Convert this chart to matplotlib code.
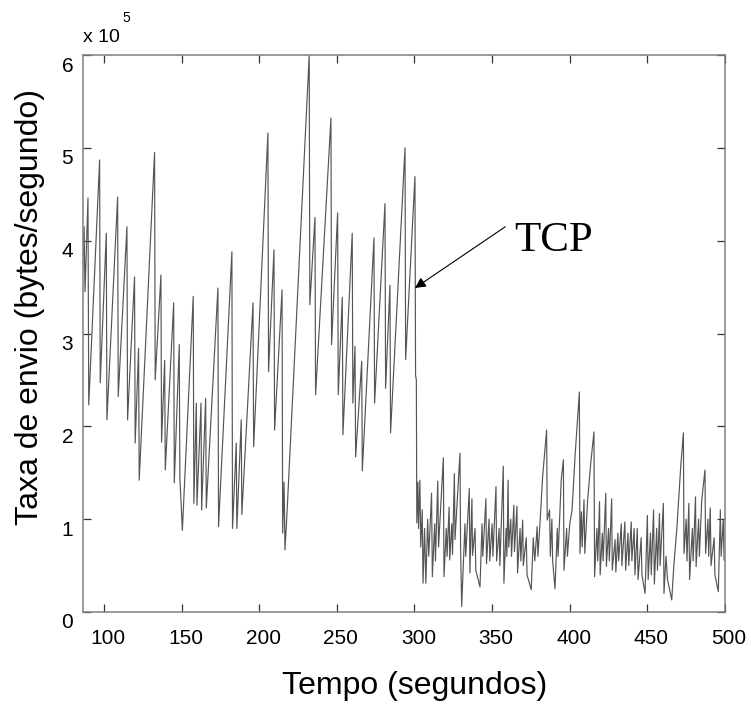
import numpy as np
import matplotlib
matplotlib.use("Agg")
import matplotlib.pyplot as plt
from matplotlib.transforms import ScaledTranslation

# tempo (s) e taxa (x 1e5 bytes/s): picos e vales
tempo_antes = [86.0, 87.2, 87.8, 89.7, 90.2, 97.2, 97.6, 101.5, 101.9, 108.8, 109.2,
               114.8, 115.2, 119.7, 120.1, 122.3, 122.7, 132.6, 133.0, 136.7, 137.1,
               139.1, 139.5, 144.9, 145.3, 148.5, 148.9, 150.5, 157.5, 157.9, 159.5,
               159.9, 162.5, 162.9, 165.5, 165.9, 173.4, 173.8, 182.4, 182.8, 185.2,
               185.6, 188.4, 188.8, 196.0, 196.4, 205.6, 206.0, 209.5, 209.9, 214.7,
               215.1, 216.0, 216.6, 218.0, 232.2, 232.6, 235.9, 236.3, 246.2, 246.6,
               250.5, 250.9, 253.5, 253.9, 259.9, 260.3, 261.7, 262.1, 266.0, 266.4,
               273.9, 274.3, 281.0, 281.4, 284.2, 284.6, 293.9, 294.3, 300.3, 300.7,
               301.2]
taxa_antes = [3.60, 4.15, 3.45, 4.46, 2.23, 4.87, 2.47, 4.08, 2.07, 4.47, 2.32,
              4.15, 2.07, 3.61, 1.82, 2.84, 1.42, 4.95, 2.50, 3.63, 1.83,
              2.71, 1.53, 3.33, 1.39, 2.88, 1.44, 0.88, 3.40, 1.17, 2.25,
              1.15, 2.25, 1.10, 2.30, 1.12, 3.49, 0.92, 3.88, 0.90, 1.82,
              0.90, 2.07, 1.05, 3.33, 1.78, 5.16, 2.59, 3.90, 1.96, 3.47,
              0.85, 1.40, 0.67, 1.10, 6.00, 3.31, 4.25, 2.34, 5.32, 2.88,
              4.30, 2.34, 3.39, 1.91, 4.08, 2.25, 2.86, 1.67, 2.70, 1.52,
              4.03, 2.25, 4.40, 2.41, 3.52, 1.93, 5.00, 2.72, 4.69, 2.55,
              2.50]

tempo_depois = [301.5, 302.2, 302.6, 303.5, 304.0, 305.0, 305.5, 306.5, 307.3, 308.5,
                309.2, 311.0, 311.5, 313.0, 313.5, 315.0, 315.5, 318.6, 319.0, 320.5,
                321.0, 322.3, 322.7, 324.0, 324.5, 325.7, 326.1, 329.3, 329.7, 330.4,
                331.5, 332.5, 333.0, 335.3, 335.7, 337.0, 337.4, 339.0, 339.5, 342.2,
                343.5, 344.0, 346.0, 346.4, 348.0, 348.5, 350.0, 350.5, 352.5, 352.9,
                354.5, 355.0, 357.2, 357.6, 359.0, 359.5, 360.3, 360.7, 362.0, 362.5,
                364.0, 364.4, 366.0, 366.4, 368.0, 368.5, 369.7, 370.1, 372.0, 372.5,
                375.2, 376.5, 377.5, 379.0, 379.5, 381.0, 382.5, 385.1, 385.5, 387.0,
                387.5, 388.5, 389.0, 390.5, 392.0, 392.5, 394.5, 395.9, 396.3, 398.0,
                398.5, 400.0, 401.5, 403.5, 406.2, 406.6, 407.5, 408.0, 409.2, 409.7,
                411.5, 413.5, 415.6, 416.0, 417.5, 418.0, 419.2, 419.6, 421.0, 421.5,
                423.2, 423.6, 425.0, 425.5, 427.0, 427.4, 429.2, 429.7, 431.0, 431.5,
                433.2, 433.6, 435.5, 436.0, 437.5, 438.0, 439.6, 440.0, 441.5, 442.0,
                443.5, 444.0, 446.0, 446.5, 448.5, 450.0, 450.5, 452.0, 452.5, 454.0,
                454.5, 456.0, 456.5, 457.8, 458.2, 460.3, 460.7, 462.0, 463.0, 465.7,
                467.0, 469.0, 471.5, 473.2, 473.6, 475.0, 475.5, 476.7, 477.2, 479.0,
                479.5, 481.0, 481.4, 483.0, 483.5, 485.0, 487.1, 487.5, 489.0, 489.5,
                490.5, 491.0, 493.0, 493.5, 495.7, 497.0, 497.5, 498.9, 499.4]
taxa_depois = [0.96, 1.40, 0.90, 1.42, 0.70, 1.10, 0.31, 0.90, 0.31, 1.00,
               0.60, 1.28, 0.38, 0.95, 0.55, 1.41, 0.70, 1.66, 0.38, 0.90,
               0.60, 1.13, 0.56, 0.95, 0.62, 1.49, 0.78, 1.71, 0.70, 0.06,
               0.54, 0.95, 0.60, 1.33, 0.42, 1.22, 0.61, 0.90, 0.45, 0.27,
               0.95, 0.60, 1.22, 0.52, 1.00, 0.55, 0.95, 0.60, 1.35, 0.55,
               0.90, 0.50, 1.57, 0.31, 0.90, 0.60, 1.42, 0.70, 1.00, 0.60,
               1.15, 0.65, 1.14, 0.42, 0.90, 0.55, 0.99, 0.50, 0.80, 0.40,
               0.24, 0.80, 0.55, 0.92, 0.60, 1.00, 1.45, 1.96, 0.99, 1.10,
               0.60, 1.00, 0.55, 0.25, 0.90, 0.60, 1.42, 1.64, 0.45, 0.90,
               0.60, 0.95, 1.10, 1.70, 2.37, 0.63, 1.08, 0.70, 1.21, 0.63,
               1.20, 1.60, 1.94, 0.38, 0.90, 0.55, 1.19, 0.40, 0.85, 0.55,
               1.28, 0.49, 0.90, 0.55, 1.22, 0.45, 0.78, 0.43, 0.85, 0.55,
               0.95, 0.50, 0.97, 0.45, 0.85, 0.50, 0.97, 0.55, 0.90, 0.40,
               0.90, 0.35, 0.80, 0.40, 0.20, 1.04, 0.35, 0.85, 0.40, 1.10,
               0.30, 0.90, 0.45, 1.06, 0.50, 1.17, 0.20, 0.60, 0.35, 0.13,
               0.49, 0.90, 1.57, 1.93, 0.63, 1.00, 0.55, 1.17, 0.35, 0.90,
               0.55, 1.24, 0.49, 1.00, 0.60, 1.20, 1.53, 0.63, 1.00, 0.60,
               1.12, 0.50, 0.80, 0.40, 0.22, 1.10, 0.60, 1.00, 0.56]

x_ticks = [100, 150, 200, 250, 300, 350, 400, 450, 500]
y_ticks = [0, 1, 2, 3, 4, 5, 6]

tempo = np.array(tempo_antes + tempo_depois)
taxa = np.array(taxa_antes + taxa_depois) * 1e5

plt.rcParams["font.family"] = ["Liberation Sans", "DejaVu Sans"]

fig = plt.figure(figsize=(7.51, 7.09), dpi=100)
W, H = 751, 709
ax = fig.add_axes([83 / W, 1 - 612 / H, (725 - 83) / W, (612 - 55) / H])

ax.plot(tempo, taxa, color="#555555", lw=0.85)

ax.set_xlim(86.5, 500)
ax.set_ylim(0, 6e5)
ax.set_xticks(x_ticks)
ax.set_xticklabels([str(v) for v in x_ticks])
ax.set_yticks([v * 1e5 for v in y_ticks])
ax.set_yticklabels([str(v) for v in y_ticks])

ax.tick_params(direction="in", top=True, right=True, length=6, width=0.9,
               labelsize=15, color="#333333")
ax.tick_params(axis="x", pad=12)
ax.tick_params(axis="y", pad=7)
for s in ax.spines.values():
    s.set_color("#808080")
    s.set_linewidth(1.1)

# rotulos deslocados como no original (estilo MATLAB)
dx = ScaledTranslation(4 / 100, 0, fig.dpi_scale_trans)
dy = ScaledTranslation(0, -9 / 100, fig.dpi_scale_trans)
for lbl in ax.get_xticklabels():
    lbl.set_transform(lbl.get_transform() + dx)
for lbl in ax.get_yticklabels():
    lbl.set_transform(lbl.get_transform() + dy)

fig.text(83 / W, 1 - 42 / H, "x 10", fontsize=14, ha="left", va="baseline")
fig.text(122 / W, 1 - 22 / H, "5", fontsize=10, ha="left", va="baseline")

fig.text(30 / W, 1 - 307 / H, "Taxa de envio (bytes/segundo)", rotation=90,
         fontsize=23, ha="center", va="center")
fig.text(415 / W, 1 - 686 / H, "Tempo (segundos)", fontsize=23,
         ha="center", va="center")

ax.annotate("", xy=(300.3, 3.49e5), xytext=(358.5, 4.15e5),
            arrowprops=dict(arrowstyle="-|>", color="black", lw=0.8,
                            mutation_scale=16, shrinkA=0, shrinkB=0))
ax.text(364.5, 4.0e5, "TCP", fontsize=31, family=["Liberation Serif", "DejaVu Serif"],
        ha="left", va="center")

fig.savefig("out.png", dpi=100)
